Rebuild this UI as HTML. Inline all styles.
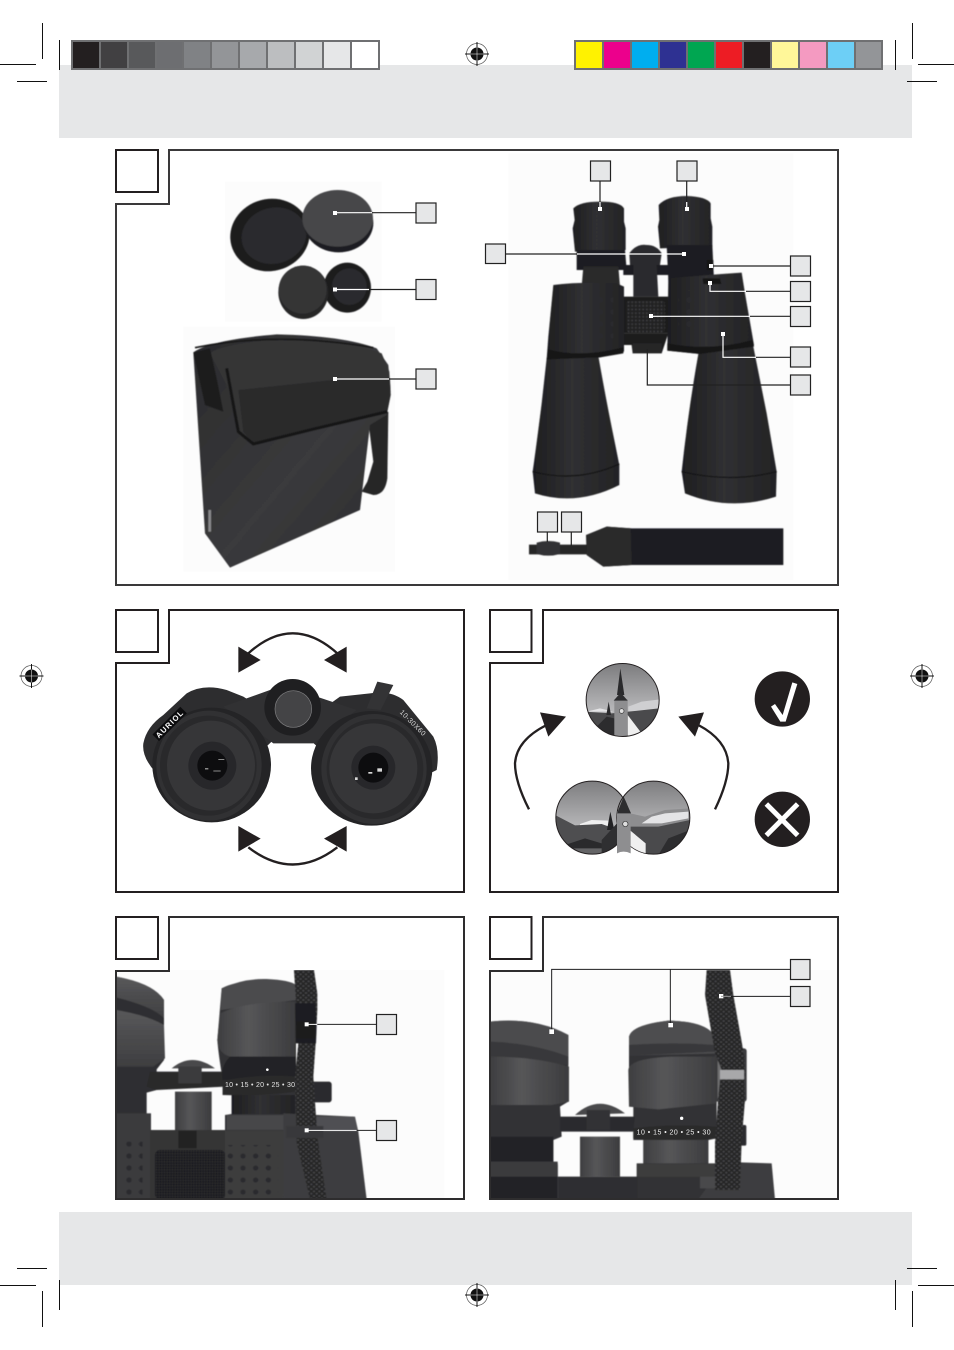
<!DOCTYPE html>
<html><head><meta charset="utf-8"><style>
html,body{margin:0;padding:0;background:#fff}
svg{display:block}
text{font-family:"Liberation Sans",sans-serif}
</style></head><body>
<svg xmlns="http://www.w3.org/2000/svg" width="954" height="1350" viewBox="0 0 954 1350">
<defs>
<filter id="soft"><feGaussianBlur stdDeviation="1.2"/></filter>
<linearGradient id="dk" x1="0" x2="1" y1="0" y2="0"><stop offset="0" stop-color="#1e1e20"/><stop offset=".45" stop-color="#303032"/><stop offset="1" stop-color="#232325"/></linearGradient>
<linearGradient id="mid" x1="0" x2="1" y1="0" y2="0"><stop offset="0" stop-color="#3e3e40"/><stop offset=".4" stop-color="#565658"/><stop offset="1" stop-color="#3c3c3e"/></linearGradient>
<linearGradient id="mid2" x1="0" x2="0" y1="0" y2="1"><stop offset="0" stop-color="#58585a"/><stop offset="1" stop-color="#3e3e40"/></linearGradient>
<linearGradient id="sky" x1="0" x2="0" y1="0" y2="1"><stop offset="0" stop-color="#7c7c7e"/><stop offset=".6" stop-color="#b4b4b6"/><stop offset="1" stop-color="#c4c4c6"/></linearGradient>
<linearGradient id="bag" x1="0" x2="1" y1="0" y2="1"><stop offset="0" stop-color="#2a2a2c"/><stop offset=".55" stop-color="#3a3a3c"/><stop offset="1" stop-color="#2c2c2e"/></linearGradient>
<pattern id="weave" width="16" height="14" patternUnits="userSpaceOnUse"><rect width="16" height="14" fill="#262628"/><ellipse cx="4" cy="4" rx="3.4" ry="2.4" fill="#4e4e50"/><ellipse cx="12" cy="11" rx="3.4" ry="2.4" fill="#4e4e50"/></pattern>
<pattern id="knurl" width="11" height="11" patternUnits="userSpaceOnUse"><rect width="11" height="11" fill="#222224"/><rect x="3" y="3" width="5" height="5" fill="#3c3c3e"/></pattern>
<pattern id="knurlD" width="8" height="8" patternUnits="userSpaceOnUse"><rect width="8" height="8" fill="#1f1f21"/><rect x="2" y="2" width="3" height="3" fill="#3a3a3c"/></pattern>
<pattern id="pips" width="38" height="36" patternUnits="userSpaceOnUse"><circle cx="19" cy="18" r="8" fill="#2c2c2e"/></pattern>
<clipPath id="cT"><circle cx="413" cy="300" r="109"/></clipPath>
<clipPath id="cL"><circle cx="322" cy="653" r="109"/></clipPath>
<clipPath id="cR"><circle cx="505" cy="653" r="109"/></clipPath>
<clipPath id="cD"><rect x="18" y="180" width="1044" height="688"/></clipPath>
<clipPath id="cE"><rect x="14" y="180" width="1044" height="688"/></clipPath>
<g id="reg"><circle r="10.5" fill="none" stroke="#555" stroke-width=".7"/><circle r="6.5" fill="#111"/><path d="M-12 0H12M0 -12V12" stroke="#111" stroke-width="1"/><path d="M-6.5 0H6.5M0 -6.5V6.5" stroke="#fff" stroke-width=".5"/></g>
</defs>

<rect width="954" height="1350" fill="#fff"/>
<rect x="59" y="65" width="853" height="73" fill="#e6e7e8"/>
<rect x="59" y="1212" width="853" height="73" fill="#e6e7e8"/>

<!-- colour bars -->
<rect x="71" y="40" width="309" height="30" fill="#6f7072"/>
<g>
<rect x="73" y="42" width="26" height="26" fill="#231f20"/>
<rect x="101" y="42" width="26" height="26" fill="#414042"/>
<rect x="129" y="42" width="26" height="26" fill="#58595b"/>
<rect x="157" y="42" width="25" height="26" fill="#6d6e71"/>
<rect x="184" y="42" width="26" height="26" fill="#808285"/>
<rect x="212" y="42" width="26" height="26" fill="#939598"/>
<rect x="240" y="42" width="26" height="26" fill="#a7a9ac"/>
<rect x="268" y="42" width="26" height="26" fill="#bcbec0"/>
<rect x="296" y="42" width="26" height="26" fill="#d1d3d4"/>
<rect x="324" y="42" width="26" height="26" fill="#e6e7e8"/>
<rect x="352" y="42" width="26" height="26" fill="#fff"/>
</g>
<rect x="574" y="40" width="309" height="30" fill="#6f7072"/>
<g>
<rect x="576" y="42" width="26" height="26" fill="#fff200"/>
<rect x="604" y="42" width="26" height="26" fill="#ec008c"/>
<rect x="632" y="42" width="26" height="26" fill="#00aeef"/>
<rect x="660" y="42" width="26" height="26" fill="#2e3192"/>
<rect x="688" y="42" width="26" height="26" fill="#00a651"/>
<rect x="716" y="42" width="26" height="26" fill="#ed1c24"/>
<rect x="744" y="42" width="26" height="26" fill="#231f20"/>
<rect x="772" y="42" width="26" height="26" fill="#fff799"/>
<rect x="800" y="42" width="26" height="26" fill="#f49ac1"/>
<rect x="828" y="42" width="26" height="26" fill="#6dcff6"/>
<rect x="856" y="42" width="25" height="26" fill="#939598"/>
</g>

<!-- crop marks -->
<path d="M42.5 23V59M59.5 40V70M0 64.5H36M17 81.5H47M912.5 23V59M895.5 40V70M918 64.5H954M907 81.5H937M17 1268.5H47M0 1285.5H36M59.5 1280V1310M42.5 1291V1327M907 1268.5H937M918 1285.5H954M895.5 1280V1310M912.5 1291V1327" stroke="#111" stroke-width="1" fill="none"/>
<use href="#reg" x="477" y="54"/><use href="#reg" x="477" y="1295"/><use href="#reg" x="31.500" y="676"/><use href="#reg" x="922" y="676"/>

<!-- ========== PANEL A left photos ========== -->
<g transform="translate(110 145) scale(.33333)">
<rect x="345" y="110" width="470" height="420" fill="#fcfcfc"/>
<rect x="220" y="545" width="635" height="735" fill="#fcfcfc"/>
<g filter="url(#soft)">
<ellipse cx="480" cy="270" rx="120" ry="108" transform="rotate(-15 480 270)" fill="#1c1c1e"/>
<ellipse cx="492" cy="272" rx="98" ry="84" transform="rotate(-15 492 272)" fill="#2b2b2d"/>
<ellipse cx="686" cy="234" rx="104" ry="88" fill="#1f1f21"/>
<ellipse cx="683" cy="220" rx="106" ry="85" fill="#474749"/>
<ellipse cx="712" cy="428" rx="71" ry="75" fill="#1c1c1e"/>
<ellipse cx="718" cy="425" rx="52" ry="55" fill="#2c2c2e"/>
<ellipse cx="580" cy="442" rx="75" ry="80" fill="#252527"/>
<ellipse cx="578" cy="434" rx="72" ry="72" fill="#343436"/>
<!-- bag strap -->
<path d="M835 800L832 1000Q825 1050 790 1050L755 1040L772 1010L790 950L775 830Z" fill="#252527"/>
<path d="M250 622Q300 585 500 568Q700 572 800 610L835 660L842 740L830 810L780 840L750 1095L360 1268L285 1165Z" fill="url(#bag)"/>
<path d="M300 625Q330 598 520 580Q720 590 815 625L838 680L842 750L832 800L620 850L430 897L385 860L350 720Z" fill="#343436"/>
<path d="M385 735L670 705L840 700L842 750L832 800L620 850L430 897L400 860Z" fill="#29292b"/>
<path d="M350 670L385 860L430 897L620 850L832 800" fill="none" stroke="#141416" stroke-width="9"/>
<path d="M250 622L300 610L320 700L340 800L285 780Z" fill="#1c1c1e"/>
<path d="M255 608Q500 558 790 608" fill="none" stroke="#141416" stroke-width="5"/>
<rect x="295" y="1095" width="8" height="65" fill="#8a8a8c"/>
</g>
</g>

<!-- ========== PANEL A right photo ========== -->
<g transform="translate(480 150) scale(.33333)">
<rect x="85" y="10" width="855" height="1280" fill="#fcfcfc"/>
<g filter="url(#soft)">
<!-- eyepieces -->
<path d="M280 175Q300 155 360 155Q420 155 432 175L432 215L437 235L437 300L285 305L278 235L284 210Z" fill="url(#dk)"/>
<path d="M536 165Q560 138 620 138Q680 140 692 160L692 205L697 230L697 290L540 295L534 230L538 210Z" fill="url(#dk)"/>
<path d="M290 300H435L440 360H290Z" fill="#1f1f21"/>
<path d="M560 285H697L702 390H565Z" fill="#1e1e20"/>
<path d="M310 350H415L420 410H305Z" fill="#29292b"/>
<!-- bridge + hinge -->
<path d="M430 345H570L565 375L430 375Z" fill="#1e1e20"/>
<path d="M448 310Q470 280 500 285Q530 285 545 310L540 345H450Z" fill="#2c2c2e"/>
<path d="M460 345H530L535 440L460 440Z" fill="#2c2c2e"/>
<path d="M430 440H565V550L430 550Z" fill="#1c1c1e"/>
<rect x="440" y="452" width="115" height="95" rx="8" fill="url(#knurl)"/>
<path d="M430 550H565L545 610H458L455 585H430Z" fill="#1c1c1e"/>
<path d="M458 580H545V607H458Z" fill="#262628"/>
<!-- upper bodies -->
<path d="M220 405Q300 395 410 400L432 410V605L360 622L200 628L205 560Z" fill="url(#dk)"/>
<path d="M565 385Q680 375 785 368L795 430L822 585L810 600L660 612L562 602Z" fill="url(#dk)"/>
<g><rect x="335" y="420" width="65" height="145" fill="url(#pips)" opacity=".8"/><rect x="595" y="420" width="55" height="120" fill="url(#pips)" opacity=".8"/></g>
<path d="M668 385H720L724 402H670Z" fill="#141416"/>
<!-- cones -->
<path d="M200 625L355 618Q380 760 405 880L418 945V1005Q290 1070 165 1030L158 965Q170 880 185 760Z" fill="url(#dk)"/>
<path d="M158 965Q290 1000 418 942" fill="none" stroke="#161618" stroke-width="4"/>
<path d="M655 612L820 590L860 790L890 965L888 1040Q750 1085 615 1030L605 965Q625 780 655 612Z" fill="url(#dk)"/>
<path d="M605 965Q750 1000 890 965" fill="none" stroke="#161618" stroke-width="4"/>
<path d="M204 598Q300 625 430 592V610L360 622L200 628Z" fill="#161618"/>
<path d="M562 580Q690 605 818 570L822 590L660 612L562 602Z" fill="#161618"/>
<!-- knob -->
<rect x="680" y="330" width="20" height="30" fill="#161618"/>
<!-- strap -->
<path d="M147 1184H320V1213H147Z" fill="#262628"/>
<path d="M170 1178Q205 1168 240 1178V1212Q205 1222 170 1212Z" fill="#333335"/>
<path d="M318 1155L380 1130L455 1135H910V1245H455L370 1250L320 1215Z" fill="#1f1f21"/>
<path d="M320 1155L380 1130L452 1135L455 1245L370 1250L320 1215Z" fill="#2a2a2c"/>
</g>
</g>

<!-- Panel A frame -->
<path d="M169 150H838V585H116V204H169Z" fill="none" stroke="#3a393a" stroke-width="2"/>
<rect x="116" y="150" width="42" height="42" fill="#fff" stroke="#231f20" stroke-width="2"/>

<!-- Panel A leaders -->
<g stroke-width="1.2" fill="none">
<path d="M335 212.700H372M335 289.500H369M335 379H389M600 202V209M686.700 202V209M577 254H684M711 266H712M710 283V291.300H746M651.300 316.300H750M723 334V357.300H756" stroke="#fff"/>
<path d="M372 212.700H416M369 289.500H416M389 379H416M600 181V202M686.700 181V202M505 254H577M711 266H790M746 291.300H790M750 316.300H790M756 357.300H790M647.300 349V385H790M547.300 532V542M571.300 532V546" stroke="#222"/>
</g>
<g fill="#fff">
<rect x="333" y="211" width="4" height="4"/><rect x="333" y="287.500" width="4" height="4"/><rect x="333" y="377" width="4" height="4"/>
<rect x="598" y="207" width="4" height="4"/><rect x="685" y="207" width="4" height="4"/><rect x="682" y="252" width="4" height="4"/>
<rect x="709" y="264" width="4" height="4"/><rect x="708" y="281" width="4" height="4"/><rect x="649" y="314" width="4" height="4"/><rect x="721" y="332" width="4" height="4"/>
</g>
<g fill="#e6e7e8" stroke="#222" stroke-width="1.200">
<rect x="416" y="203" width="20" height="20"/><rect x="416" y="279.500" width="20" height="20"/><rect x="416" y="369" width="20" height="20"/>
<rect x="590.500" y="161" width="20" height="20"/><rect x="677" y="161" width="20" height="20"/><rect x="485.500" y="244" width="20" height="19.500"/>
<rect x="790.500" y="256" width="20" height="20"/><rect x="790.500" y="281.500" width="20" height="20"/><rect x="790.500" y="306.500" width="20" height="20"/><rect x="790.500" y="347" width="20" height="20"/><rect x="790.500" y="375" width="20" height="20"/>
<rect x="537.500" y="512" width="20" height="20"/><rect x="561.500" y="512" width="20" height="20"/>
</g>

<!-- ========== PANEL B ========== -->
<path d="M169 610H464V892H116V663H169Z" fill="#fff" stroke="#231f20" stroke-width="2"/>
<rect x="116" y="610" width="42" height="42" fill="#fff" stroke="#231f20" stroke-width="2"/>
<g transform="translate(110 600) scale(.33333)">
<path d="M135 515Q95 470 100 430Q110 380 160 345L230 280Q280 250 350 270L400 290L480 340L490 420L300 600Z" fill="#2d2d2f"/>
<path d="M980 510Q990 450 970 410L880 300Q840 270 780 280L690 290L620 340L600 420L800 600Z" fill="#2d2d2f"/>
<path d="M340 320L480 270L620 290L740 330L610 430H490Z" fill="#313133"/>
<path d="M770 325L802 245L850 255L812 330Z" fill="#333335"/>
<circle cx="548" cy="322" r="85" fill="#1f1f21"/>
<circle cx="550" cy="327" r="55" fill="#444446" stroke="#808082" stroke-width="2"/>
<ellipse cx="305" cy="495" rx="178" ry="172" fill="#242426"/>
<ellipse cx="297" cy="497" rx="158" ry="165" fill="#313133"/>
<ellipse cx="295" cy="497" rx="145" ry="150" fill="#29292b"/>
<ellipse cx="303" cy="497" rx="132" ry="135" fill="#363638"/>
<circle cx="307" cy="497" r="72" fill="#27272a"/>
<circle cx="307" cy="497" r="45" fill="#0d0d0f"/>
<g fill="#c8c8c8"><rect x="285" y="505" width="10" height="3"/><rect x="325" y="478" width="18" height="2"/><rect x="310" y="512" width="22" height="2"/></g>
<ellipse cx="785" cy="505" rx="182" ry="172" fill="#242426"/>
<ellipse cx="792" cy="507" rx="158" ry="165" fill="#313133"/>
<ellipse cx="795" cy="507" rx="145" ry="150" fill="#29292b"/>
<ellipse cx="790" cy="505" rx="132" ry="135" fill="#363638"/>
<circle cx="790" cy="503" r="66" fill="#27272a"/>
<circle cx="790" cy="503" r="45" fill="#0d0d0f"/>
<g fill="#d8d8d8"><rect x="775" y="516" width="12" height="5"/><rect x="802" y="505" width="14" height="10"/><rect x="735" y="532" width="8" height="8"/></g>
<g transform="translate(150 412) rotate(-45)"><rect x="-10" y="-22" width="118" height="28" fill="#0c0c0e"/><text x="-5" y="0" font-size="23" font-weight="bold" fill="#fff" textLength="105">AURIOL</text></g>
<g transform="translate(868 338) rotate(45)"><text font-size="21" fill="#d8d8d8" textLength="100">10-30X60</text></g>
<!-- arrows -->
<g fill="none" stroke="#231f20" stroke-width="7"><path d="M415 160Q548 40 682 160"/><path d="M415 742Q548 845 682 742"/></g>
<g fill="#231f20"><path d="M385 140V218L452 180Z"/><path d="M710 140V218L642 180Z"/><path d="M385 678V755L452 716Z"/><path d="M710 678V755L642 716Z"/></g>
</g>

<!-- ========== PANEL C ========== -->
<path d="M543 610H838V892H490V663H543Z" fill="#fff" stroke="#231f20" stroke-width="2"/>
<rect x="490" y="610" width="41.500" height="42" fill="#fff" stroke="#231f20" stroke-width="2"/>
<g transform="translate(485 600) scale(.33333)">
<!-- top circle -->
<g clip-path="url(#cT)">
<rect x="300" y="190" width="230" height="220" fill="url(#sky)"/>
<path d="M305 335L345 325L385 335H305Z" fill="#e4e4e6"/>
<path d="M430 320L470 305L525 298V335H430Z" fill="#cfcfd1"/>
<path d="M430 335L525 325V420H300V335L380 340Z" fill="#4a4a4c"/>
<path d="M300 415L365 350L388 355V415Z" fill="#2c2c2e"/>
<path d="M428 345L470 400V415H428Z" fill="#efefef"/>
<rect x="388" y="298" width="40" height="115" fill="#8e8e90"/>
<path d="M406 205L396 285L418 285Z" fill="#2a2a2c"/>
<path d="M386 302L407 278L428 302Z" fill="#2d2d2f"/>
<path d="M371 305L364 345H378Z" fill="#2a2a2c"/>
<circle cx="410" cy="333" r="7" fill="#e0e0e0" stroke="#333" stroke-width="2"/>
</g>
<circle cx="413" cy="300" r="109.500" fill="none" stroke="#231f20" stroke-width="3"/>
<!-- bottom left -->
<g clip-path="url(#cL)">
<rect x="210" y="540" width="225" height="225" fill="url(#sky)"/>
<path d="M285 672L320 660L370 662V680H285Z" fill="#efefef"/>
<path d="M210 645L270 676L350 672L400 690V770H210Z" fill="#4e4e50"/>
<path d="M240 770V735L300 715L350 730L385 735V770Z" fill="#2a2a2c"/>
<path d="M250 745H385V770H250Z" fill="#8c8c8e" opacity=".6"/>
<path d="M376 635L366 690H388Z" fill="#222224"/>
<path d="M350 720L396 670L400 770H350Z" fill="#2f2f31"/>
</g>
<!-- bottom right -->
<g clip-path="url(#cR)">
<rect x="395" y="540" width="225" height="225" fill="url(#sky)"/>
<path d="M435 640L480 650L540 630L615 625V690H435Z" fill="#8d8d8f"/>
<path d="M470 670L500 650L540 640L610 635V655L530 670Z" fill="#e4e4e6"/>
<path d="M435 680L520 680L615 660V770H435Z" fill="#4a4a4c"/>
<path d="M520 765L550 715L615 690V770Z" fill="#2d2d2f"/>
</g>
<circle cx="322" cy="653" r="109.500" fill="none" stroke="#231f20" stroke-width="3"/>
<circle cx="505" cy="653" r="109.500" fill="none" stroke="#231f20" stroke-width="3"/>
<g clip-path="url(#cR)"><path d="M434 690L482 730V770H434Z" fill="#f0f0f0"/><path d="M395 540H435V680L430 690H395Z" fill="none"/></g>
<path d="M396 635H437V760Q415 750 396 760Z" fill="#8e8e90"/>
<path d="M416 590L396 640L438 640Z" fill="#2d2d2f"/>
<circle cx="421" cy="672" r="8" fill="#ddd" stroke="#333" stroke-width="2"/>
<!-- arrows -->
<g fill="none" stroke="#231f20" stroke-width="7"><path d="M132 628Q90 545 90 490Q95 420 185 375"/><path d="M690 628Q730 545 730 490Q725 420 640 375"/></g>
<g fill="#231f20"><path d="M165 337L243 350L190 410Z"/><path d="M657 337L580 350L630 410Z"/></g>
<circle cx="892" cy="297" r="83" fill="#231f20"/>
<path d="M858 320L870 312L893 345L922 247L937 252L902 365H886Z" fill="#fff"/>
<circle cx="892" cy="658" r="83" fill="#231f20"/>
<path d="M844 612L938 706M938 612L844 706" fill="none" stroke="#fff" stroke-width="15"/>
</g>

<!-- ========== PANEL D ========== -->
<rect x="116" y="917" width="348" height="282" fill="#fff"/>
<g transform="translate(110 910) scale(.33333)">
<rect x="18" y="180" width="985" height="688" fill="#fcfcfc"/>
<g clip-path="url(#cD)"><g filter="url(#soft)">
<!-- underlay -->
<path d="M18 200Q130 220 162 270V450L140 478V540L110 548V868H18Z" fill="#2e2e30"/>
<path d="M335 235Q400 200 558 225V660H525L520 868H345V615L365 612V555L338 555V510Q325 430 322 390Z" fill="#333335"/>
<!-- left eyepiece -->
<path d="M18 200Q130 220 162 270V330Q110 300 18 295Z" fill="url(#mid2)"/>
<path d="M18 262Q130 290 162 325V345Q110 310 18 300Z" fill="#2f2f31"/>
<path d="M18 300Q110 315 162 345L165 445L130 470H18Z" fill="url(#mid2)"/>
<rect x="18" y="610" width="105" height="258" fill="#3a3a3c"/>
<rect x="28" y="695" width="70" height="173" fill="url(#pips)"/>
<rect x="120" y="660" width="230" height="208" fill="#343436"/>
<!-- bridge -->
<path d="M120 485H340L345 530L140 540L110 530Z" fill="#2a2a2c"/>
<path d="M185 475Q245 425 315 475Z" fill="#4a4a4c"/>
<path d="M205 470H275V520H205Z" fill="#3a3a3c"/>
<path d="M195 545H305V660H195Z" fill="url(#mid)"/>
<rect x="135" y="720" width="210" height="148" rx="14" fill="url(#knurlD)"/>
<path d="M205 662H260V715H205Z" fill="#222224"/>
<!-- centre eyepiece -->
<path d="M335 235Q400 205 470 207Q540 210 558 225V270L332 300Z" fill="#4c4c4e"/>
<path d="M330 310Q400 275 555 275V440H360Q325 430 322 390Z" fill="url(#mid)"/>
<path d="M360 440H558V505L338 510Q330 470 360 440Z" fill="#232325"/>
<path d="M338 512Q450 490 560 500V545Q450 560 338 555Z" fill="#2a2a2c"/>
<path d="M365 555H555V612H365Z" fill="url(#dk)"/>
<path d="M350 615H555V660H350Z" fill="#474749"/>
<path d="M345 662H525L520 868H345Z" fill="#3c3c3e"/>
<rect x="350" y="705" width="155" height="163" fill="url(#pips)"/>
<!-- right body -->
<path d="M520 610L730 620L745 665L770 868H520Z" fill="#3e3e40"/>
<path d="M620 620L735 620L745 665H620Z" fill="#505052"/>
<rect x="600" y="515" width="65" height="62" rx="8" fill="#2b2b2d"/>
<!-- strap -->
<path d="M552 180H612L622 250V300L617 400L610 500L622 680L650 868H600L560 700L555 500L565 400Z" fill="url(#weave)"/>
<path d="M555 280H615L620 350L618 400H558Z" fill="#1f1f21"/>
<path d="M558 335H615V385H558Z" fill="#1a1a1c"/>
<path d="M528 648H640V684H528Z" fill="#38383a"/>
</g>
<text x="345" y="531" font-size="21" fill="#e4e4e4" textLength="210">10 • 15 • 20 • 25 • 30</text>
<circle cx="472" cy="479" r="4" fill="#fff"/>
</g>
<path d="M620 343H800M640 661H740" stroke="#222" stroke-width="3"/>
<path d="M590 343H622M590 661H740" stroke="#fff" stroke-width="3"/>
<path d="M740 661H800" stroke="#222" stroke-width="3"/>
<rect x="584" y="337" width="12" height="12" fill="#fff"/><rect x="584" y="655" width="12" height="12" fill="#fff"/>
</g>
<path d="M169 917H464V1199H116V971H169Z" fill="none" stroke="#2e2d2e" stroke-width="2"/>
<rect x="116" y="917" width="42" height="42" fill="#fff" stroke="#231f20" stroke-width="2"/>
<rect x="376.500" y="1014.500" width="20" height="20" fill="#e6e7e8" stroke="#222" stroke-width="1.200"/>
<rect x="376.500" y="1120.500" width="20" height="20" fill="#e6e7e8" stroke="#222" stroke-width="1.200"/>

<!-- ========== PANEL E ========== -->
<rect x="490" y="917" width="348" height="282" fill="#fff"/>
<g transform="translate(485 910) scale(.33333)">
<rect x="14" y="180" width="1044" height="688" fill="#fcfcfc"/>
<g clip-path="url(#cE)"><g filter="url(#soft)">
<!-- underlays -->
<path d="M14 335Q150 320 250 375V575L225 590L230 680L205 690V760L218 765V870H14Z" fill="#333335"/>
<path d="M432 380Q440 345 550 332Q690 335 695 400V685L670 690V760H690V868H455V760H475V690H445V590H432Z" fill="#333335"/>
<!-- left eyepiece -->
<path d="M14 335Q150 320 250 375V440L14 430Z" fill="#4b4b4d"/>
<path d="M14 395Q150 400 250 440V465L14 440Z" fill="#39393b"/>
<path d="M14 440Q150 440 252 470V575L200 585H14Z" fill="url(#mid)"/>
<path d="M14 680H205V760H218V870H14Z" fill="#242426"/>
<path d="M14 755H218V800H14Z" fill="#3a3a3c"/>
<!-- centre bridge -->
<path d="M225 620H450L445 665H225Z" fill="#2c2c2e"/>
<path d="M270 615Q340 550 420 610Z" fill="#4a4a4c"/>
<path d="M305 600H375V660H305Z" fill="#333335"/>
<path d="M285 680H405V800H285Z" fill="url(#mid)"/>
<path d="M218 800H458V868H218Z" fill="#2f2f31"/>
<!-- centre eyepiece -->
<path d="M432 380Q440 345 550 332Q690 335 695 400V430L432 437Z" fill="#4e4e50"/>
<path d="M432 405Q560 395 695 405V425L432 437Z" fill="#37373a"/>
<path d="M430 480Q432 445 560 440H695V580L520 598L432 590Z" fill="url(#mid)"/>
<path d="M445 655Q560 640 695 650V685Q560 700 445 685Z" fill="#29292b"/>
<path d="M475 690H670V760H475Z" fill="url(#mid)"/>
<path d="M458 762H690V800H458Z" fill="#3c3c3e"/>
<!-- right body -->
<path d="M690 755L860 760L870 868H640L690 800Z" fill="#3e3e40"/>
<rect x="740" y="645" width="44" height="62" rx="5" fill="#2c2c2e"/>
<path d="M645 800H700V835H645Z" fill="#4a4a4c"/>
<!-- strap + buckle -->
<rect x="690" y="415" width="95" height="160" rx="8" fill="#3a3a3c"/>
<rect x="698" y="425" width="78" height="140" fill="#6f6f71"/>
<path d="M665 180H735L745 255H660Z" fill="url(#weave)"/>
<path d="M660 255H745L778 440L780 500L710 480L690 430Z" fill="url(#weave)"/>
<rect x="705" y="480" width="72" height="28" fill="#a8a8aa"/>
<path d="M705 508H778L780 570L770 690L765 840H690L690 700L700 560Z" fill="url(#weave)"/>
</g>
<text x="455" y="674" font-size="21" fill="#f0f0f0" textLength="222">10 • 15 • 20 • 25 • 30</text>
<circle cx="590" cy="625" r="5" fill="#fff"/>
</g>
<path d="M200 360V178H916M556 178V340M738 259H916" fill="none" stroke="#1c1c1e" stroke-width="3"/>
<rect x="193" y="358" width="14" height="14" fill="#fff"/><rect x="550" y="339" width="14" height="13" fill="#fff"/><rect x="702" y="252" width="13" height="13" fill="#fff"/>
<path d="M708 259H738" stroke="#999" stroke-width="3"/>
</g>
<path d="M543 917H838V1199H490V971H543Z" fill="none" stroke="#2e2d2e" stroke-width="2"/>
<rect x="490" y="917" width="41.500" height="42" fill="#fff" stroke="#231f20" stroke-width="2"/>
<rect x="790.500" y="959.500" width="19.500" height="20" fill="#e6e7e8" stroke="#222" stroke-width="1.200"/>
<rect x="790.500" y="986.500" width="19.500" height="20" fill="#e6e7e8" stroke="#222" stroke-width="1.200"/>
</svg>
</body></html>
